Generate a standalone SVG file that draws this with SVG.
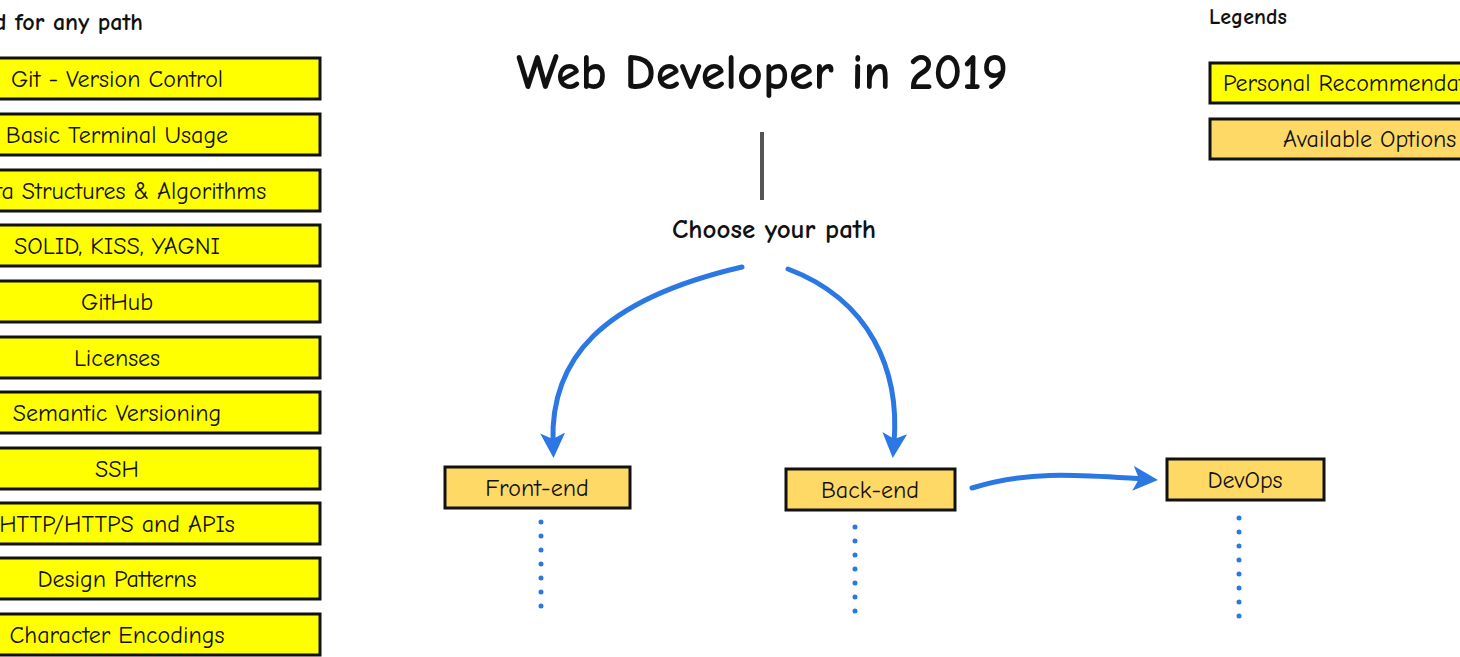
<svg xmlns="http://www.w3.org/2000/svg" width="1460" height="657" viewBox="0 0 1460 657">
<style>
text{font-family:"Comic Neue","Noto Sans","Liberation Sans",sans-serif;fill:#111}
.y rect{fill:#ffff00;stroke:#111;stroke-width:3}
.o rect{fill:#ffd966;stroke:#111;stroke-width:3}
.t{font-size:24px;text-anchor:middle}
.h{font-size:24px;font-weight:bold}
.c path{fill:none;stroke:#2b78e4;stroke-width:5;stroke-linecap:round}
.d{fill:none;stroke:#2b78e4;stroke-width:6;stroke-linecap:round;stroke-dasharray:0 14}
</style>
<defs><marker id="a" markerWidth="5" markerHeight="5" refX="2" refY="2.5" orient="auto" markerUnits="strokeWidth"><path d="M0,0 L5,2.5 L0,5 L1.2,2.5 Z" fill="#2b78e4"/></marker></defs>
<text class="h" x="-6" y="30">d for any path</text>
<text x="762" y="89" style="font-size:50px;font-weight:bold;text-anchor:middle">Web Developer in 2019</text>
<text class="h" x="774" y="238" text-anchor="middle" style="font-size:27px">Choose your path</text>
<text class="h" x="1209" y="24" style="font-size:22px">Legends</text>
<line x1="762" y1="132" x2="762" y2="200" stroke="#555" stroke-width="4"/>
<g class="y" id="n1"><rect x="-10" y="58" width="330" height="41"/><text class="t" x="117" y="87">Git - Version Control</text></g>
<g class="y" id="n2"><rect x="-10" y="114" width="330" height="41"/><text class="t" x="117" y="143">Basic Terminal Usage</text></g>
<g class="y" id="n3"><rect x="-10" y="170" width="330" height="41"/><text class="t" x="117" y="199">Data Structures &amp; Algorithms</text></g>
<g class="y" id="n4"><rect x="-10" y="225" width="330" height="41"/><text class="t" x="117" y="254">SOLID, KISS, YAGNI</text></g>
<g class="y" id="n5"><rect x="-10" y="281" width="330" height="41"/><text class="t" x="117" y="310">GitHub</text></g>
<g class="y" id="n6"><rect x="-10" y="337" width="330" height="41"/><text class="t" x="117" y="366">Licenses</text></g>
<g class="y" id="n7"><rect x="-10" y="392" width="330" height="41"/><text class="t" x="117" y="421">Semantic Versioning</text></g>
<g class="y" id="n8"><rect x="-10" y="448" width="330" height="41"/><text class="t" x="117" y="477">SSH</text></g>
<g class="y" id="n9"><rect x="-10" y="503" width="330" height="41"/><text class="t" x="117" y="532">HTTP/HTTPS and APIs</text></g>
<g class="y" id="n10"><rect x="-10" y="558" width="330" height="41"/><text class="t" x="117" y="587">Design Patterns</text></g>
<g class="y" id="n11"><rect x="-10" y="614" width="330" height="41"/><text class="t" x="117" y="643">Character Encodings</text></g>
<g class="y" id="l1"><rect x="1210" y="63" width="270" height="40"/><text x="1223" y="91" style="font-size:24px">Personal Recommendation</text></g>
<g class="o" id="l2"><rect x="1210" y="119" width="270" height="40"/><text x="1283" y="147" style="font-size:24px">Available Options</text></g>
<g class="o" id="fe"><rect x="445" y="467" width="185" height="41"/><text class="t" x="537" y="496">Front-end</text></g>
<g class="o" id="be"><rect x="786" y="469" width="169" height="41"/><text class="t" x="870" y="498">Back-end</text></g>
<g class="o" id="do"><rect x="1167" y="459" width="157" height="41"/><text class="t" x="1245" y="488">DevOps</text></g>
<g class="c" id="connectors">
<path d="M742,267 C600,300 550,360 553,443" marker-end="url(#a)"/>
<path d="M788,269 C870,300 900,370 894,443" marker-end="url(#a)"/>
<path d="M972,488 C1030,470 1080,475 1143,479" marker-end="url(#a)"/>
<path class="d" d="M541,522 V612"/>
<path class="d" d="M855,527 V615"/>
<path class="d" d="M1239,518 V622"/>
</g>
</svg>
